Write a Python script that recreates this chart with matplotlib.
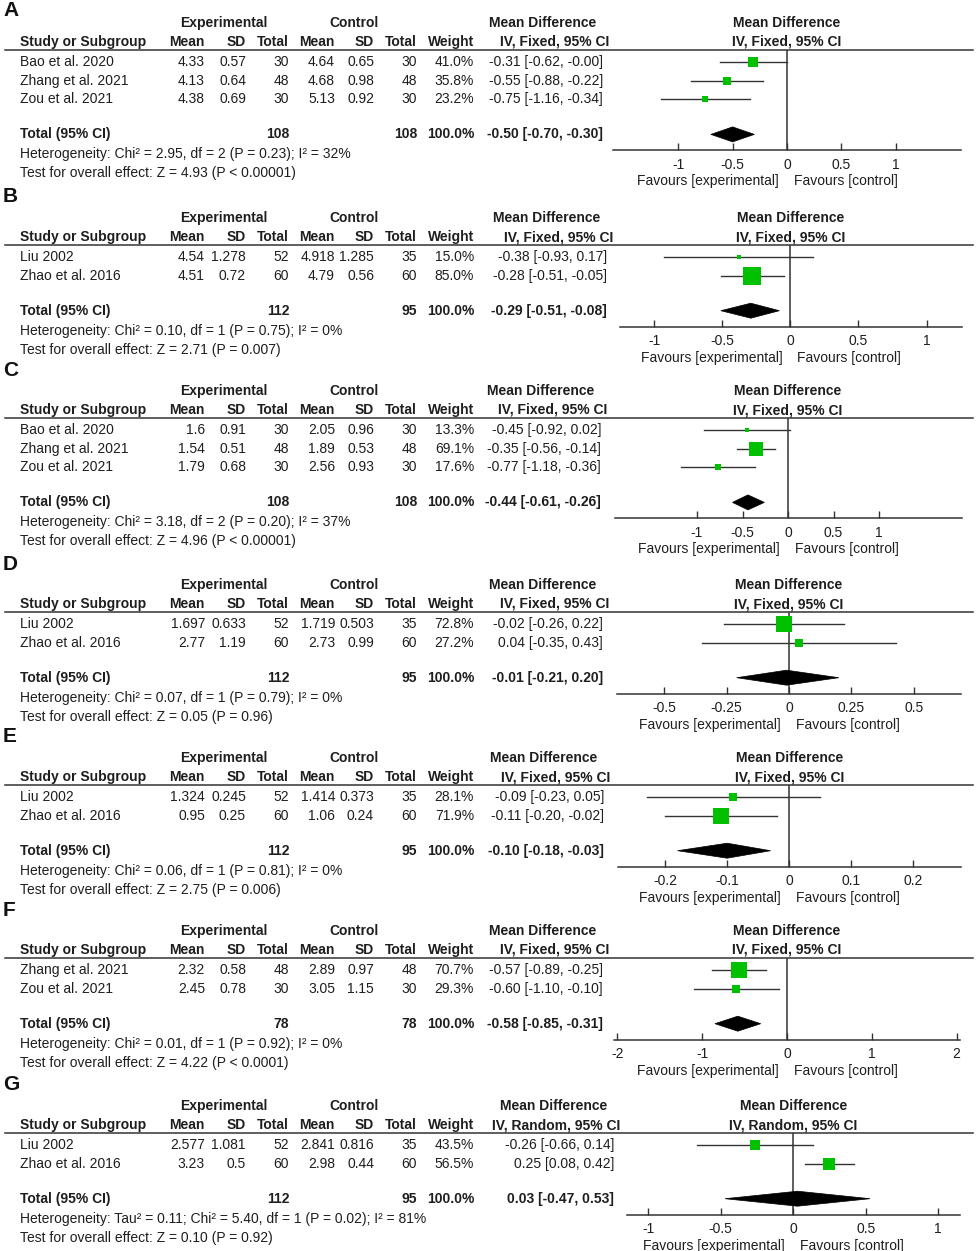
import matplotlib
matplotlib.use('Agg')
import matplotlib.pyplot as plt
from matplotlib.patches import Polygon

plt.rcParams['font.family'] = ['Liberation Sans', 'DejaVu Sans']

# ---- panel A
A_study = ['Bao et al. 2020', 'Zhang et al. 2021', 'Zou et al. 2021']
A_exp_mean = [4.33, 4.13, 4.38]
A_exp_sd = [0.57, 0.64, 0.69]
A_exp_n = [30, 48, 30]
A_ctl_mean = [4.64, 4.68, 5.13]
A_ctl_sd = [0.65, 0.98, 0.92]
A_ctl_n = [30, 48, 30]
A_weight = [41.0, 35.8, 23.2]
A_md = [-0.31, -0.55, -0.75]
A_lo = [-0.62, -0.88, -1.16]
A_hi = [-0.00, -0.22, -0.34]
A_total = [-0.50, -0.70, -0.30]
A_het = 'Chi² = 2.95, df = 2 (P = 0.23); I² = 32%'
A_z = 'Z = 4.93 (P < 0.00001)'
A_ticks = [-1, -0.5, 0, 0.5, 1]

# ---- panel B
B_study = ['Liu 2002', 'Zhao et al. 2016']
B_exp_mean = [4.54, 4.51]
B_exp_sd = [1.278, 0.72]
B_exp_n = [52, 60]
B_ctl_mean = [4.918, 4.79]
B_ctl_sd = [1.285, 0.56]
B_ctl_n = [35, 60]
B_weight = [15.0, 85.0]
B_md = [-0.38, -0.28]
B_lo = [-0.93, -0.51]
B_hi = [0.17, -0.05]
B_total = [-0.29, -0.51, -0.08]
B_het = 'Chi² = 0.10, df = 1 (P = 0.75); I² = 0%'
B_z = 'Z = 2.71 (P = 0.007)'
B_ticks = [-1, -0.5, 0, 0.5, 1]

# ---- panel C
C_study = ['Bao et al. 2020', 'Zhang et al. 2021', 'Zou et al. 2021']
C_exp_mean = [1.6, 1.54, 1.79]
C_exp_sd = [0.91, 0.51, 0.68]
C_exp_n = [30, 48, 30]
C_ctl_mean = [2.05, 1.89, 2.56]
C_ctl_sd = [0.96, 0.53, 0.93]
C_ctl_n = [30, 48, 30]
C_weight = [13.3, 69.1, 17.6]
C_md = [-0.45, -0.35, -0.77]
C_lo = [-0.92, -0.56, -1.18]
C_hi = [0.02, -0.14, -0.36]
C_total = [-0.44, -0.61, -0.26]
C_het = 'Chi² = 3.18, df = 2 (P = 0.20); I² = 37%'
C_z = 'Z = 4.96 (P < 0.00001)'
C_ticks = [-1, -0.5, 0, 0.5, 1]

# ---- panel D
D_study = ['Liu 2002', 'Zhao et al. 2016']
D_exp_mean = [1.697, 2.77]
D_exp_sd = [0.633, 1.19]
D_exp_n = [52, 60]
D_ctl_mean = [1.719, 2.73]
D_ctl_sd = [0.503, 0.99]
D_ctl_n = [35, 60]
D_weight = [72.8, 27.2]
D_md = [-0.02, 0.04]
D_lo = [-0.26, -0.35]
D_hi = [0.22, 0.43]
D_total = [-0.01, -0.21, 0.20]
D_het = 'Chi² = 0.07, df = 1 (P = 0.79); I² = 0%'
D_z = 'Z = 0.05 (P = 0.96)'
D_ticks = [-0.5, -0.25, 0, 0.25, 0.5]

# ---- panel E
E_study = ['Liu 2002', 'Zhao et al. 2016']
E_exp_mean = [1.324, 0.95]
E_exp_sd = [0.245, 0.25]
E_exp_n = [52, 60]
E_ctl_mean = [1.414, 1.06]
E_ctl_sd = [0.373, 0.24]
E_ctl_n = [35, 60]
E_weight = [28.1, 71.9]
E_md = [-0.09, -0.11]
E_lo = [-0.23, -0.20]
E_hi = [0.05, -0.02]
E_total = [-0.10, -0.18, -0.03]
E_het = 'Chi² = 0.06, df = 1 (P = 0.81); I² = 0%'
E_z = 'Z = 2.75 (P = 0.006)'
E_ticks = [-0.2, -0.1, 0, 0.1, 0.2]

# ---- panel F
F_study = ['Zhang et al. 2021', 'Zou et al. 2021']
F_exp_mean = [2.32, 2.45]
F_exp_sd = [0.58, 0.78]
F_exp_n = [48, 30]
F_ctl_mean = [2.89, 3.05]
F_ctl_sd = [0.97, 1.15]
F_ctl_n = [48, 30]
F_weight = [70.7, 29.3]
F_md = [-0.57, -0.60]
F_lo = [-0.89, -1.10]
F_hi = [-0.25, -0.10]
F_total = [-0.58, -0.85, -0.31]
F_het = 'Chi² = 0.01, df = 1 (P = 0.92); I² = 0%'
F_z = 'Z = 4.22 (P < 0.0001)'
F_ticks = [-2, -1, 0, 1, 2]

# ---- panel G
G_study = ['Liu 2002', 'Zhao et al. 2016']
G_exp_mean = [2.577, 3.23]
G_exp_sd = [1.081, 0.5]
G_exp_n = [52, 60]
G_ctl_mean = [2.841, 2.98]
G_ctl_sd = [0.816, 0.44]
G_ctl_n = [35, 60]
G_weight = [43.5, 56.5]
G_md = [-0.26, 0.25]
G_lo = [-0.66, 0.08]
G_hi = [0.14, 0.42]
G_total = [0.03, -0.47, 0.53]
G_het = 'Tau² = 0.11; Chi² = 5.40, df = 1 (P = 0.02); I² = 81%'
G_z = 'Z = 0.10 (P = 0.92)'
G_ticks = [-1, -0.5, 0, 0.5, 1]

labels = ['A', 'B', 'C', 'D', 'E', 'F', 'G']
models = ['Fixed', 'Fixed', 'Fixed', 'Fixed', 'Fixed', 'Fixed', 'Random']

g = globals()
panels = []
for k in labels:
    panels.append({f: g[k + '_' + f] for f in
                   ['study', 'exp_mean', 'exp_sd', 'exp_n', 'ctl_mean', 'ctl_sd',
                    'ctl_n', 'weight', 'md', 'lo', 'hi', 'total', 'het', 'z', 'ticks']})

# layout (pixels)
W, H = 976, 1251
tops = [23, 218, 391, 585, 758, 931, 1106]
letter_y = [10, 197, 370, 564, 737, 910, 1085]
ci_right = [603, 607, 601, 603, 604, 603, 614]
forest_x = [(613, 961), (620, 962), (615, 962), (617, 961), (618, 961), (614, 960), (627, 960)]
xlims = [(-1.6, 1.6), (-1.25, 1.26), (-1.9, 1.91), (-0.69, 0.69),
         (-0.276, 0.277), (-2.04, 2.04), (-1.145, 1.15)]
cols = [205, 246, 289, 335, 374, 417, 474]
ROW_H = 18.7
FS = 10
TXT = '#1e1e1e'
LINE = '#333333'
GREEN = '#00c000'

fig = plt.figure(figsize=(W / 100, H / 100), dpi=100)
bg = fig.add_axes([0, 0, 1, 1])
bg.set_xlim(0, W)
bg.set_ylim(H, 0)
bg.axis('off')


def txt(x, y, s, ha='left', bold=False):
    bg.text(x, y, s, ha=ha, va='center', fontsize=FS, color=TXT,
            fontweight='bold' if bold else 'normal')


for j, p in enumerate(panels):
    h = tops[j]
    n = len(p['study'])
    line_y = h + 27
    row_y = [h + 39 + i * ROW_H for i in range(n)]
    tot_y = row_y[-1] + 35
    het_y = tot_y + 20
    z_y = het_y + 19
    axis_y = tot_y + 16
    cr = ci_right[j]

    bg.text(3, letter_y[j], labels[j], fontsize=15, fontweight='bold', va='center', color='#111111')
    txt(224, h, 'Experimental', 'center', True)
    txt(354, h, 'Control', 'center', True)
    txt(cr - 60, h, 'Mean Difference', 'center', True)
    txt(20, h + 19, 'Study or Subgroup', bold=True)
    for x, t in zip(cols, ['Mean', 'SD', 'Total', 'Mean', 'SD', 'Total', 'Weight']):
        txt(x, h + 19, t, 'right', True)
    txt(cr + 6, h + 19, 'IV, %s, 95%% CI' % models[j], 'right', True)
    bg.plot([5, 973], [line_y, line_y], color=LINE, lw=1.1)

    for i in range(n):
        y = row_y[i]
        txt(20, y, p['study'][i])
        vals = [str(p['exp_mean'][i]), str(p['exp_sd'][i]), str(p['exp_n'][i]),
                str(p['ctl_mean'][i]), str(p['ctl_sd'][i]), str(p['ctl_n'][i]),
                '%.1f%%' % p['weight'][i]]
        for x, v in zip(cols, vals):
            txt(x, y, v, 'right')
        txt(cr, y, '%.2f [%.2f, %.2f]' % (p['md'][i], p['lo'][i], p['hi'][i]), 'right')

    tmd, tlo, thi = p['total']
    txt(20, tot_y, 'Total (95% CI)', bold=True)
    txt(cols[2], tot_y, str(sum(p['exp_n'])), 'right', True)
    txt(cols[5], tot_y, str(sum(p['ctl_n'])), 'right', True)
    txt(cols[6], tot_y, '%.1f%%' % sum(p['weight']), 'right', True)
    txt(cr, tot_y, '%.2f [%.2f, %.2f]' % (tmd, tlo, thi), 'right', True)
    txt(20, het_y, 'Heterogeneity: ' + p['het'])
    txt(20, z_y, 'Test for overall effect: ' + p['z'])

    # forest plot
    x0, x1 = forest_x[j]
    ax = fig.add_axes([x0 / W, 1 - axis_y / H, (x1 - x0) / W, (axis_y - line_y) / H])
    ax.set_xlim(xlims[j])
    ax.set_ylim(axis_y - line_y, 0)
    ax.patch.set_visible(False)
    for s in ['top', 'left', 'right']:
        ax.spines[s].set_visible(False)
    ax.spines['bottom'].set_color(LINE)
    ax.spines['bottom'].set_linewidth(1.1)
    ax.set_yticks([])
    ax.set_xticks(p['ticks'])
    ax.set_xticklabels(['%g' % t for t in p['ticks']])
    ax.tick_params(axis='x', direction='in', length=5, width=1, pad=5.5,
                   labelsize=FS, colors=LINE, labelcolor=TXT)
    ax.axvline(0, color=LINE, lw=1.1, zorder=1)

    for i in range(n):
        yy = row_y[i] - line_y
        ax.plot([p['lo'][i], p['hi'][i]], [yy, yy], color=LINE, lw=1, zorder=2, clip_on=False)
        side = 2.3 + 0.18 * p['weight'][i]
        ax.plot(p['md'][i], yy, marker='s', ms=side * 0.72, color=GREEN, mec=GREEN,
                mew=0, zorder=3, clip_on=False)
    ty = tot_y - line_y
    ax.add_patch(Polygon([[tlo, ty], [tmd, ty - 7.5], [thi, ty], [tmd, ty + 7.5]],
                         closed=True, fc='black', ec='black', lw=0.5, zorder=3, clip_on=False))

    ax.annotate('Mean Difference', xy=(0, 1), xycoords=('data', 'axes fraction'),
                xytext=(0, 27), textcoords='offset pixels', ha='center', va='center',
                fontsize=FS, fontweight='bold', color=TXT)
    ax.annotate('IV, %s, 95%% CI' % models[j], xy=(0, 1), xycoords=('data', 'axes fraction'),
                xytext=(0, 8), textcoords='offset pixels', ha='center', va='center',
                fontsize=FS, fontweight='bold', color=TXT)
    ax.annotate('Favours [experimental]', xy=(0, 0), xycoords=('data', 'axes fraction'),
                xytext=(-8, -31), textcoords='offset pixels', ha='right', va='center',
                fontsize=FS, color=TXT)
    ax.annotate('Favours [control]', xy=(0, 0), xycoords=('data', 'axes fraction'),
                xytext=(7, -31), textcoords='offset pixels', ha='left', va='center',
                fontsize=FS, color=TXT)

fig.savefig('out.png', dpi=100, facecolor='white')
